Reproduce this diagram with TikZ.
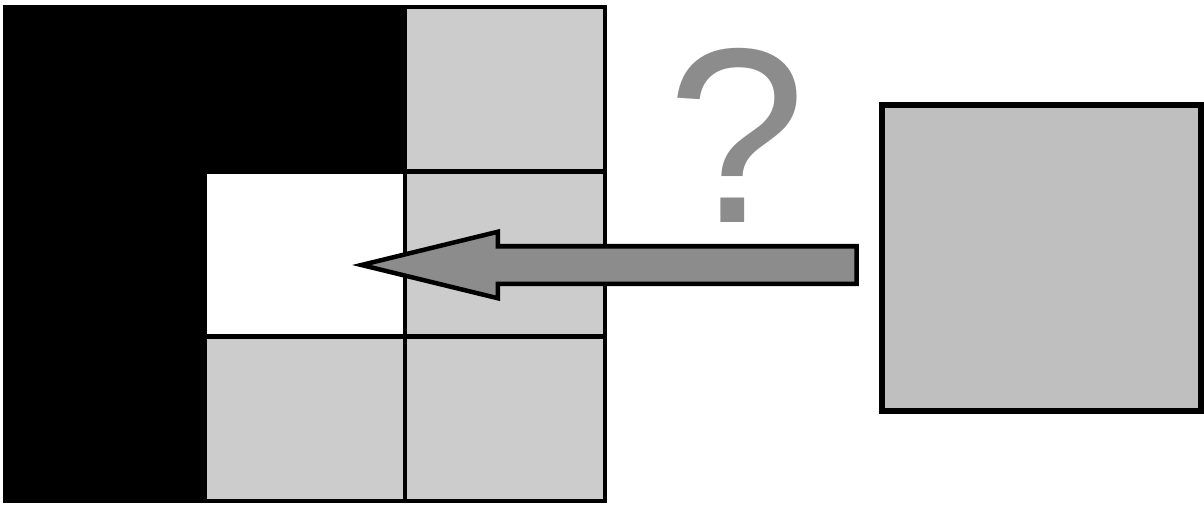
\documentclass[tikz,border=0pt]{standalone}
\usepackage{fontspec}
\setmainfont{Liberation Sans}
\usetikzlibrary{shapes.arrows}
\tikzset{cell/.style={draw,line width=0.9mm,inner sep=0pt,minimum width=40mm,minimum height=32.9mm,fill=black!20}}

\begin{document}
\begin{tikzpicture}[x=0.2mm,y=-0.2mm]
\useasboundingbox (0,0) rectangle (1204,509);
\node[cell,fill=black,minimum width=120mm,minimum height=98.8mm] (blk) at (305,254) {};
\foreach \i/\j in {2/0,2/1,1/2,2/2} {\node[cell] (c\i\j) at (105+200*\i,89.3+164.7*\j) {};}
\node[cell,fill=white] (c11) at (305,254) {};
\node[draw,line width=1.2mm,inner sep=0pt,minimum width=63.8mm,minimum height=61.2mm,fill=black!25] (src) at (1041.5,258) {};
\node[single arrow,draw,line width=0.9mm,fill=black!45,shape border rotate=180,minimum height=99mm,inner xsep=0pt,inner ysep=3.3mm,single arrow head extend=2.9mm,single arrow tip angle=27.4,anchor=tip] (arr) at (352,265) {};
\node[text=black!45,inner sep=0pt,anchor=base,font=\fontsize{142pt}{142pt}\selectfont] (q) at (737,222) {?};
\end{tikzpicture}
\end{document}
